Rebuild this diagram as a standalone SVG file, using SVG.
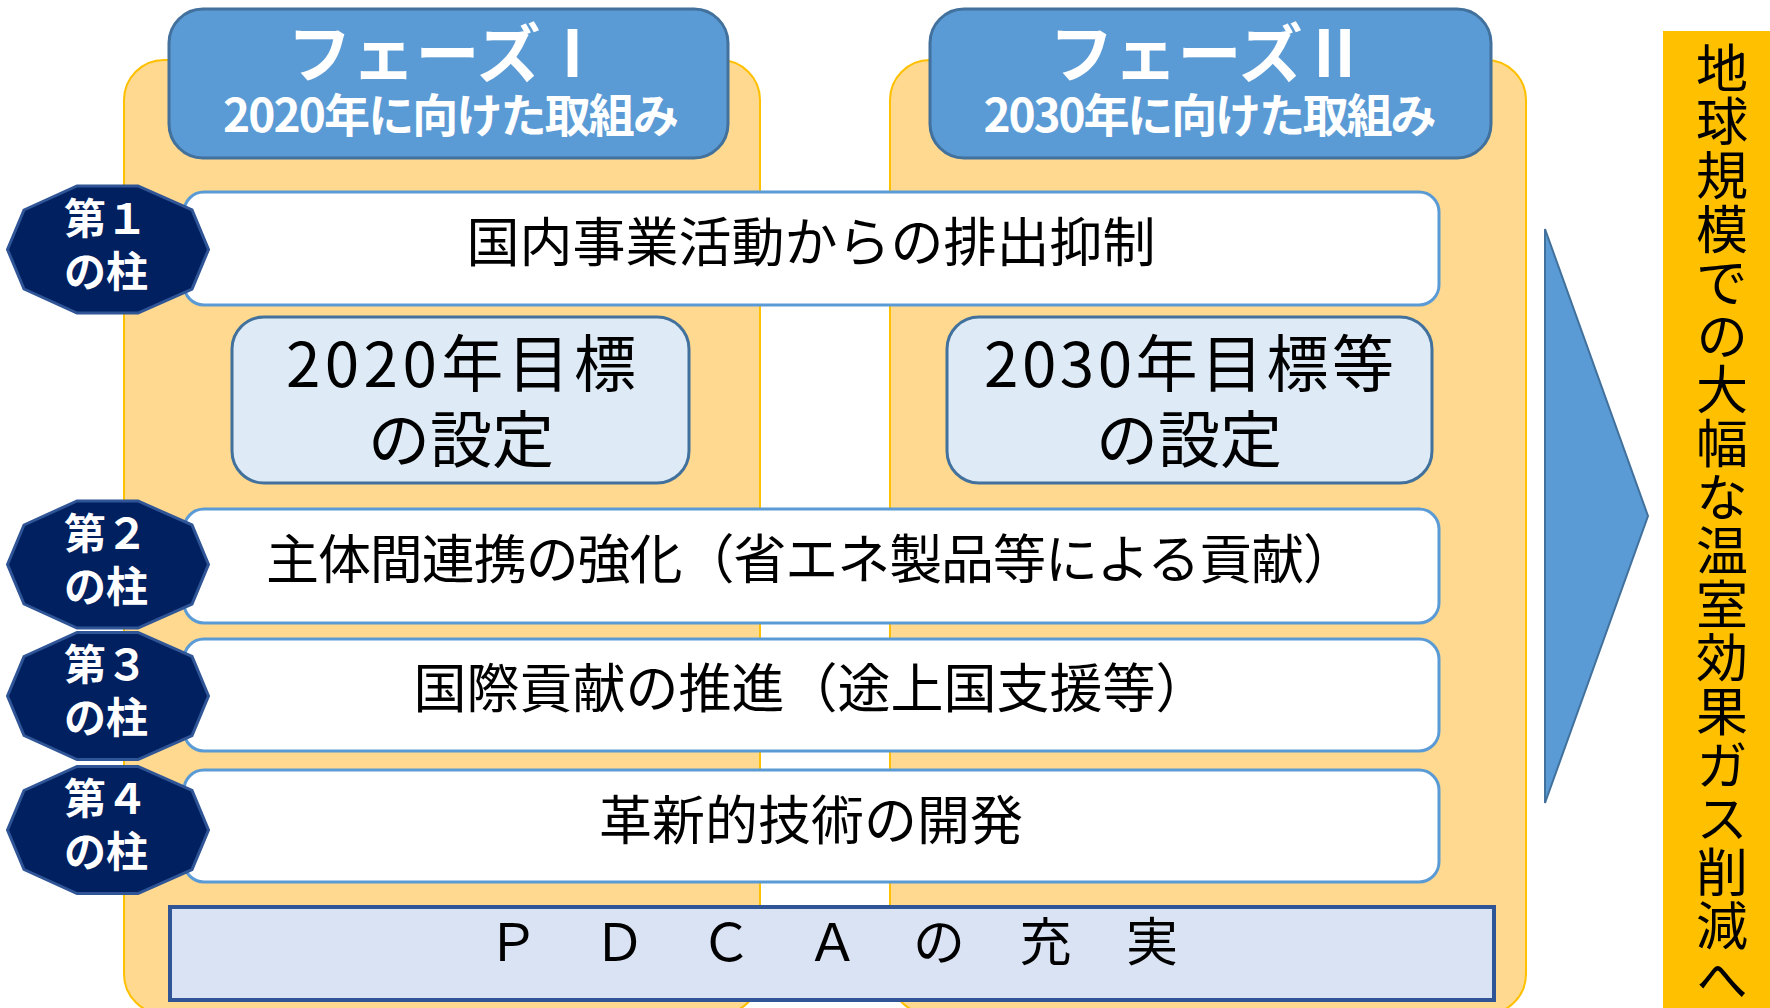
<svg xmlns="http://www.w3.org/2000/svg" width="1770" height="1008" viewBox="0 0 1770 1008">
<style>
  text { font-family: "Noto Sans CJK JP", "Noto Sans", sans-serif; }
  .panel { fill: #FFD98F; stroke: #FFC000; stroke-width: 2; }
  .head { fill: #5B9BD5; stroke: #41719C; stroke-width: 3; }
  .headT { fill: #FFFFFF; font-weight: bold; text-anchor: middle; }
  .bar { fill: #FFFFFF; stroke: #5B9BD5; stroke-width: 3; }
  .barT { fill: #000000; font-size: 53px; text-anchor: middle; }
  .goal { fill: #DEEBF7; stroke: #41719C; stroke-width: 3; }
  .goalT { fill: #000000; font-size: 62px; text-anchor: middle; }
  .pillar { fill: #002060; stroke: #2F5597; stroke-width: 3; }
  .pillarT { fill: #FFFFFF; font-weight: bold; font-size: 42px; }
  .pdca { fill: #DAE3F3; stroke: #2F5597; stroke-width: 4; }
  .vT { fill: #000000; font-size: 52px; writing-mode: vertical-rl; letter-spacing: 1.6px; }
</style>
<defs>
  <polygon id="deca" points="-31,-63.5 30,-63.5 84,-39.5 100.5,0 84,39.5 30,63.5 -31,63.5 -84,39.5 -100.5,0 -84,-39.5"/>
</defs>

<g id="phase1-panel"><rect class="panel" x="124" y="60" width="636" height="954" rx="40"/></g>
<g id="phase2-panel"><rect class="panel" x="890" y="60" width="636" height="954" rx="40"/></g>

<g id="phase1-header">
  <rect class="head" x="169" y="9" width="559" height="149" rx="34"/>
  <text class="headT" x="446" y="77" font-size="64">フェーズⅠ</text>
  <text class="headT" x="451" y="132" font-size="46" textLength="456" lengthAdjust="spacing">2020年に向けた取組み</text>
</g>
<g id="phase2-header">
  <rect class="head" x="930" y="9" width="561" height="149" rx="34"/>
  <text class="headT" x="1208" y="77" font-size="64">フェーズⅡ</text>
  <text class="headT" x="1210" y="132" font-size="46" textLength="453" lengthAdjust="spacing">2030年に向けた取組み</text>
</g>

<g id="bar1">
  <rect class="bar" x="184" y="192" width="1255" height="113" rx="20"/>
  <text class="barT" x="811" y="262">国内事業活動からの排出抑制</text>
</g>

<g id="goal2020">
  <rect class="goal" x="232" y="317" width="457" height="166" rx="32"/>
  <text class="goalT" x="461" y="387" textLength="350" lengthAdjust="spacing">2020年目標</text>
  <text class="goalT" x="461" y="463">の設定</text>
</g>
<g id="goal2030">
  <rect class="goal" x="947" y="317" width="485" height="166" rx="32"/>
  <text class="goalT" x="1189" y="387" textLength="410" lengthAdjust="spacing">2030年目標等</text>
  <text class="goalT" x="1189" y="463">の設定</text>
</g>

<g id="bar2">
  <rect class="bar" x="184" y="509" width="1255" height="114" rx="20"/>
  <text class="barT" x="811" y="579" textLength="1090" lengthAdjust="spacing">主体間連携の強化（省エネ製品等による貢献）</text>
</g>
<g id="bar3">
  <rect class="bar" x="184" y="639" width="1255" height="112" rx="20"/>
  <text class="barT" x="811" y="708">国際貢献の推進（途上国支援等）</text>
</g>
<g id="bar4">
  <rect class="bar" x="184" y="770" width="1255" height="112" rx="20"/>
  <text class="barT" x="811" y="840">革新的技術の開発</text>
</g>

<g id="pdca">
  <rect class="pdca" x="170" y="907" width="1324" height="93"/>
  <text x="487" y="961" font-size="52" fill="#000000" textLength="691" lengthAdjust="spacing">Ｐ　Ｄ　Ｃ　Ａ　の　充　実</text>
</g>

<g id="pillar1">
  <use href="#deca" class="pillar" x="108" y="249.5"/>
  <text class="pillarT" x="64" y="234">第１</text>
  <text class="pillarT" x="64" y="287">の柱</text>
</g>
<g id="pillar2">
  <use href="#deca" class="pillar" x="108" y="564.5"/>
  <text class="pillarT" x="64" y="549">第２</text>
  <text class="pillarT" x="64" y="602">の柱</text>
</g>
<g id="pillar3">
  <use href="#deca" class="pillar" x="108" y="696"/>
  <text class="pillarT" x="64" y="680">第３</text>
  <text class="pillarT" x="64" y="733">の柱</text>
</g>
<g id="pillar4">
  <use href="#deca" class="pillar" x="108" y="830"/>
  <text class="pillarT" x="64" y="814">第４</text>
  <text class="pillarT" x="64" y="867">の柱</text>
</g>

<g id="connectors">
  <polygon points="1545,229 1648,516 1545,803" fill="#5B9BD5" stroke="#41719C" stroke-width="2"/>
</g>

<g id="goal-banner">
  <rect x="1663" y="31" width="120" height="990" fill="#FFC000"/>
  <text class="vT" x="1722" y="42">地球規模での大幅な温室効果ガス削減へ</text>
</g>
</svg>
